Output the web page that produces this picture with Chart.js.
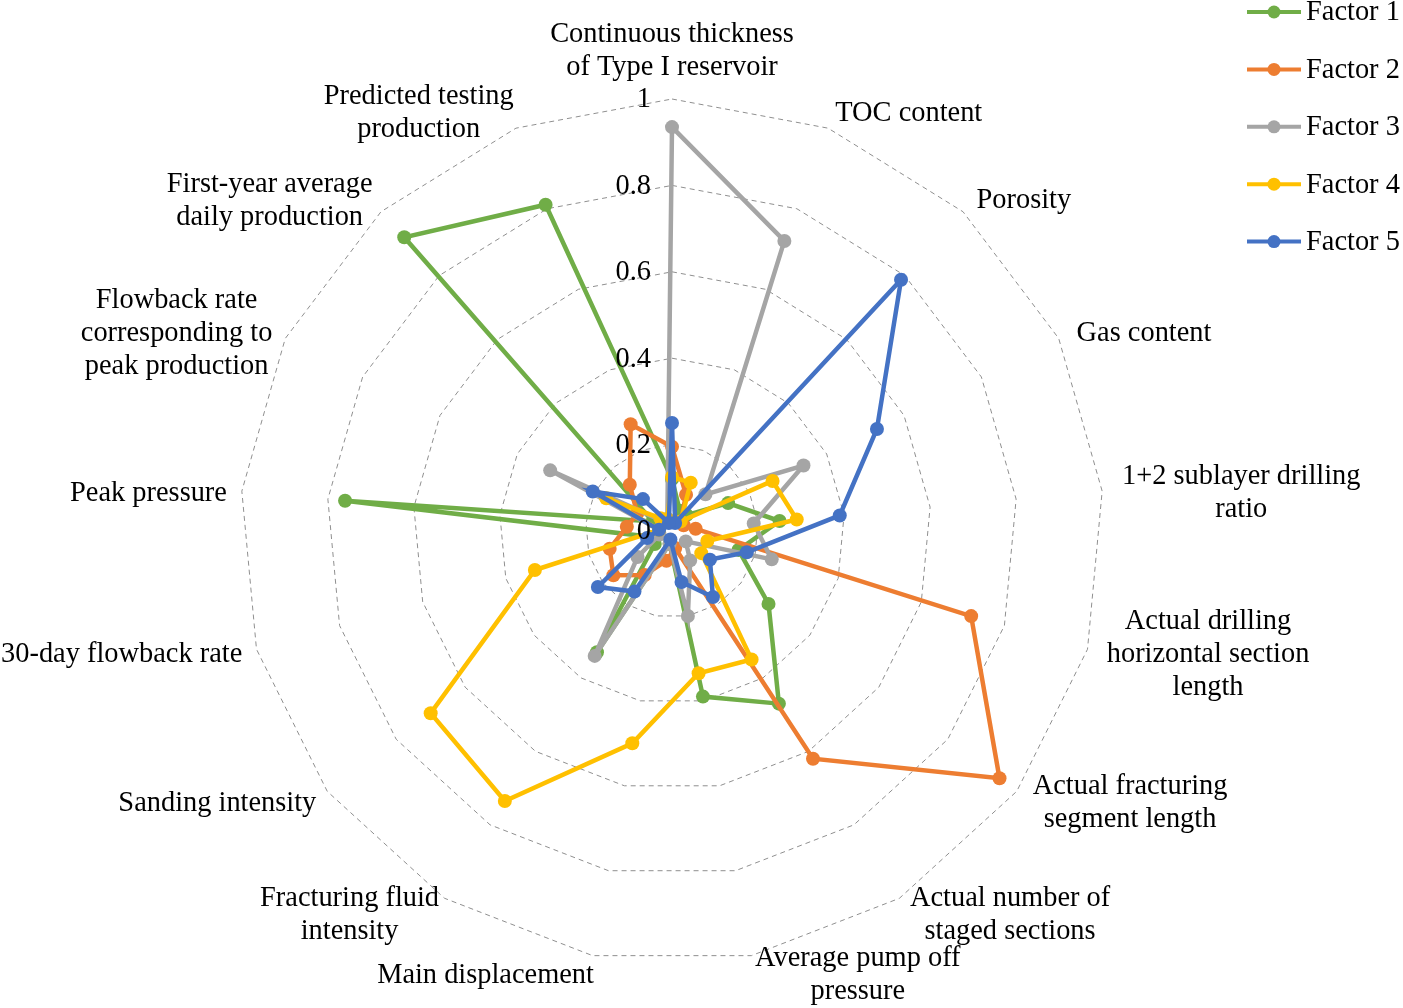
<!DOCTYPE html>
<html>
<head>
<meta charset="utf-8">
<script src="https://cdn.jsdelivr.net/npm/chart.js@4.4.1/dist/chart.umd.min.js"></script>
<style>
  html, body { margin: 0; padding: 0; background: #fff; }
  #wrap { width: 1403px; height: 1008px; }
</style>
</head>
<body>
<div id="wrap"><canvas id="radar" width="1403" height="1008"></canvas></div>
<script>
// categorías (cada una dividida en líneas como en la figura)
const categories = [
  ['Continuous thickness', 'of Type I reservoir'],
  ['TOC content'],
  ['Porosity'],
  ['Gas content'],
  ['1+2 sublayer drilling', 'ratio'],
  ['Actual drilling', 'horizontal section', 'length'],
  ['Actual fracturing', 'segment length'],
  ['Actual number of', 'staged sections'],
  ['Average pump off', 'pressure'],
  ['Main displacement'],
  ['Fracturing fluid', 'intensity'],
  ['Sanding intensity'],
  ['30-day flowback rate'],
  ['Peak pressure'],
  ['Flowback rate', 'corresponding to', 'peak production'],
  ['First-year average', 'daily production'],
  ['Predicted testing', 'production']
];

const seriesNames = ['Factor 1', 'Factor 2', 'Factor 3', 'Factor 4', 'Factor 5'];

const factor1 = [0.12, 0.05, 0.05, 0.145, 0.25, 0.16, 0.28, 0.47, 0.39, 0.03, 0.33, 0.05, 0.05, 0.76, 0.05, 0.92, 0.81];
const factor2 = [0.195, 0.09, 0.03, 0.03, 0.055, 0.72, 0.95, 0.62, 0.04, 0.07, 0.12, 0.17, 0.15, 0.105, 0.09, 0.145, 0.265];
const factor3 = [0.935, 0.72, 0.115, 0.34, 0.19, 0.24, 0.04, 0.08, 0.2, 0.03, 0.34, 0.1, 0.03, 0.03, 0.315, 0.03, 0.03];
const factor4 = [0.125, 0.12, 0.03, 0.26, 0.29, 0.085, 0.085, 0.35, 0.335, 0.5, 0.735, 0.7, 0.33, 0.03, 0.17, 0.04, 0.03];
const factor5 = [0.25, 0.02, 0.787, 0.53, 0.39, 0.18, 0.11, 0.18, 0.12, 0.02, 0.165, 0.215, 0.06, 0.03, 0.205, 0.1, 0.02];

const tickMin = 0, tickMax = 1, tickStep = 0.2;

const colors = ['#70AD47', '#ED7D31', '#A5A5A5', '#FFC000', '#4472C4'];
const FONT = '28.4px "Liberation Serif", "Times New Roman", serif';
const LINE_H = 33;

const allSeries = [factor1, factor2, factor3, factor4, factor5];

// etiquetas de los ejes, al estilo Excel
const axisLabels = {
  id: 'axisLabels',
  afterDraw(chart) {
    const s = chart.scales.r;
    const ctx = chart.ctx;
    ctx.save();
    ctx.font = FONT;
    ctx.fillStyle = '#000';
    ctx.textBaseline = 'middle';
    ctx.textAlign = 'center';
    categories.forEach((lines, i) => {
      const deg = i * 360 / categories.length;
      const p = s.getPointPosition(i, s.drawingArea + 20);
      const w = Math.max(...lines.map(l => ctx.measureText(l).width));
      const h = lines.length * LINE_H;
      let cx = p.x;
      if (deg > 0 && deg < 180) cx = p.x + w / 2;
      else if (deg > 180) cx = p.x + 5 - w / 2;
      let top = deg === 0 ? p.y - h + 5 : p.y - h / 2;
      if (deg > 0 && p.y < s.yCenter) top += 4;
      lines.forEach((l, k) => ctx.fillText(l, cx, top + LINE_H * (k + 0.5)));
    });

    // valores de la escala, a la izquierda del eje vertical
    ctx.textAlign = 'right';
    s.ticks.forEach(t => {
      const y = s.yCenter - s.getDistanceFromCenterForValue(t.value);
      ctx.fillText(String(+t.value.toFixed(1)), s.xCenter - 21, y + 1);
    });
    ctx.restore();
  }
};

// leyenda propia: línea con círculo
const legendBox = {
  id: 'legendBox',
  afterDraw(chart) {
    const ctx = chart.ctx;
    ctx.save();
    ctx.font = FONT;
    ctx.textBaseline = 'middle';
    ctx.textAlign = 'left';
    chart.data.datasets.forEach((ds, i) => {
      const y = 12 + i * 57.4;
      ctx.strokeStyle = ds.borderColor;
      ctx.lineWidth = 4;
      ctx.beginPath();
      ctx.moveTo(1247, y);
      ctx.lineTo(1301, y);
      ctx.stroke();
      ctx.fillStyle = ds.borderColor;
      ctx.beginPath();
      ctx.arc(1274, y, 6.5, 0, Math.PI * 2);
      ctx.fill();
      ctx.fillStyle = '#000';
      ctx.fillText(ds.label, 1306, y + 1);
    });
    ctx.restore();
  }
};

new Chart(document.getElementById('radar').getContext('2d'), {
  type: 'radar',
  data: {
    labels: categories.map(c => c.join(' ')),
    datasets: allSeries.map((vals, i) => ({
      label: seriesNames[i],
      data: vals,
      borderColor: colors[i],
      backgroundColor: colors[i],
      pointBackgroundColor: colors[i],
      pointBorderColor: colors[i],
      borderWidth: 4.5,
      pointRadius: 7,
      pointBorderWidth: 0,
      fill: false,
      order: allSeries.length - i
    }))
  },
  options: {
    responsive: false,
    animation: false,
    layout: { padding: { left: 240, right: 299, top: 99, bottom: 45 } },
    plugins: { legend: { display: false }, tooltip: { enabled: false } },
    scales: {
      r: {
        min: tickMin,
        max: tickMax,
        ticks: { stepSize: tickStep, display: false },
        pointLabels: { display: false },
        angleLines: { display: false },
        grid: { color: '#8f8f8f', lineWidth: 1 },
        border: { dash: [5, 4] }
      }
    }
  },
  plugins: [axisLabels, legendBox]
});
</script>
</body>
</html>
